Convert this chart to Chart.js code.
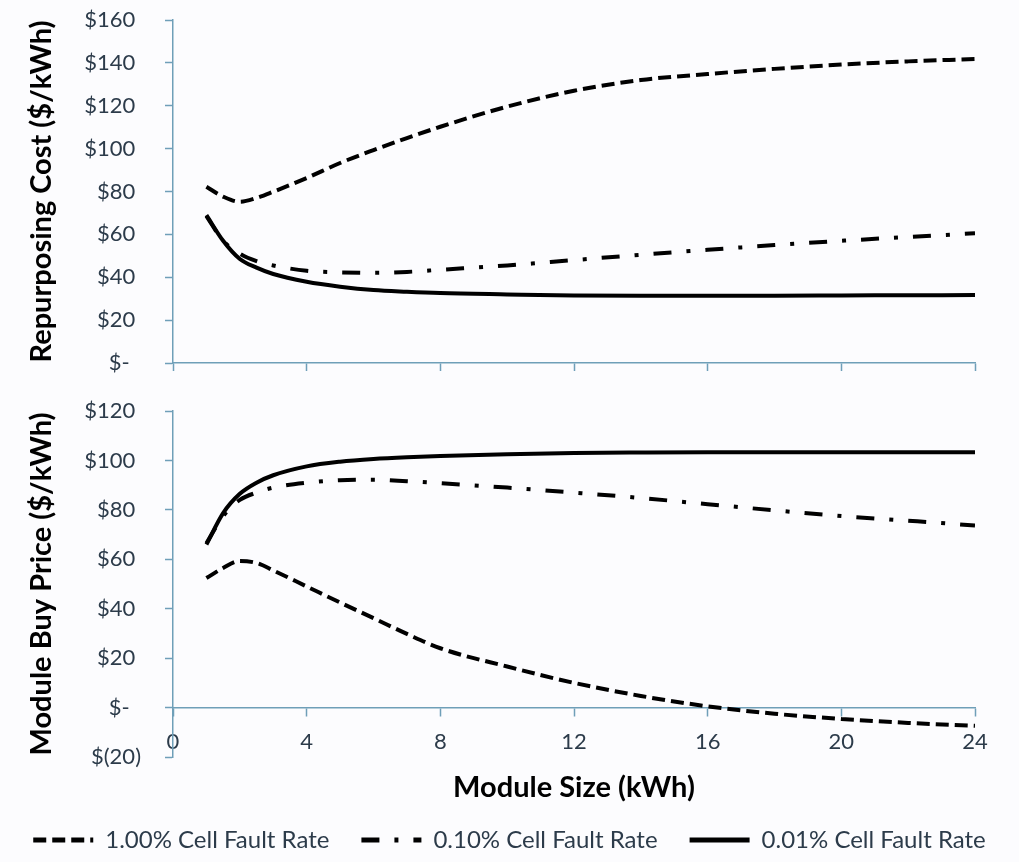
<!DOCTYPE html>
<html>
<head>
<meta charset="utf-8">
<script src="https://cdn.jsdelivr.net/npm/chart.js@4"></script>
<style>
  html, body { margin: 0; padding: 0; background: #fcfcfe; overflow: hidden; }
  #wrap { position: relative; width: 1019px; height: 862px; }
  #top { position: absolute; left: 0; top: 0; width: 1019px; height: 390px; }
  #bottom { position: absolute; left: 0; top: 390px; width: 1019px; height: 472px; }
</style>
</head>
<body>
<div id="wrap">
  <div id="top"><canvas id="costChart"></canvas></div>
  <div id="bottom"><canvas id="priceChart"></canvas></div>
</div>
<script>
// module size (kWh)
const sizes = [1, 1.5, 2, 2.5, 3, 4, 5, 6, 7, 8, 10, 12, 14, 16, 18, 20, 22, 24];

// repurposing cost ($/kWh)
const cost100 = [82.2, 77.6, 75.2, 77, 79.9, 86.3, 93.3, 99.3, 104.9, 110.2, 119.6, 127, 132, 134.8, 137.2, 139.2, 140.7, 141.8];
const cost010 = [68.5, 57, 51, 47.5, 45.5, 43, 42.3, 42.1, 42.5, 43.5, 45.5, 48, 50.5, 52.8, 55, 57, 58.8, 60.5];
const cost001 = [69, 57, 48.5, 44.5, 41.5, 37.9, 35.6, 34, 33.2, 32.6, 32, 31.5, 31.4, 31.4, 31.4, 31.5, 31.6, 31.7];

// module buy price ($/kWh)
const price100 = [52.4, 56.5, 59.3, 58.5, 55.5, 49, 42.5, 36.2, 29.8, 24, 16.6, 10, 4.7, 0.5, -2.5, -4.6, -6.2, -7.4];
const price010 = [66.5, 77.5, 84, 87, 89, 91, 92, 92.2, 91.6, 90.8, 89, 87, 84.8, 82.3, 79.8, 77.5, 75.6, 73.7];
const price001 = [66, 78.7, 86.5, 91, 94, 97.6, 99.5, 100.6, 101.3, 101.8, 102.5, 103, 103.2, 103.3, 103.3, 103.3, 103.3, 103.3];

const seriesNames = ['1.00% Cell Fault Rate', '0.10% Cell Fault Rate', '0.01% Cell Fault Rate'];
const dashes = [[13, 6], [18, 15, 4, 15], []];

const axisColor = '#6f9fb8';
const tickColor = '#2c3b4a';
const fontFamily = 'Lato, Carlito, Calibri, sans-serif';

function pts(ys) {
  return sizes.map((x, i) => ({ x: x, y: ys[i] }));
}

function makeSets(lists) {
  return lists.map((ys, i) => ({
    label: seriesNames[i],
    data: pts(ys),
    borderColor: '#000',
    backgroundColor: '#000',
    borderWidth: 4,
    borderDash: dashes[i],
    pointRadius: 0,
    fill: false,
    cubicInterpolationMode: 'monotone'
  }));
}

function moneyLabel(v) {
  if (v < 0) return '$(' + (-v) + ')';
  if (v === 0) return '$-  ';
  return '$' + v + ' ';
}

function yScale(min, max, title) {
  return {
    min: min, max: max,
    afterFit: (s) => { s.width = 173; s.paddingTop = 0; s.paddingBottom = 0; },
    ticks: { stepSize: 20, color: tickColor, padding: 24, font: { family: fontFamily, size: 22 }, callback: moneyLabel },
    grid: { drawOnChartArea: false, color: axisColor, tickLength: 8, tickWidth: 1.5 },
    border: { color: axisColor, width: 1.5 },
    title: { display: true, text: title, color: '#000', padding: { top: 24, bottom: 0 }, font: { family: fontFamily, size: 29, weight: 'bold' } }
  };
}

function xFit(h) {
  return (s) => {
    if (h) s.height = h;
    s.paddingLeft = 0;
    s.paddingRight = 44;
  };
}

Chart.defaults.font.family = fontFamily;
Chart.defaults.animation = false;

new Chart(document.getElementById('costChart'), {
  type: 'line',
  data: { datasets: makeSets([cost100, cost010, cost001]) },
  options: {
    responsive: true,
    maintainAspectRatio: false,
    layout: { padding: { left: 0, right: 0, top: 20, bottom: 17 } },
    plugins: { legend: { display: false }, tooltip: { enabled: false } },
    scales: {
      x: {
        type: 'linear', min: 0, max: 24,
        afterFit: xFit(10),
        ticks: { stepSize: 4, display: false },
        grid: { drawOnChartArea: false, color: axisColor, tickLength: 8, tickWidth: 1.5 },
        border: { color: axisColor, width: 1.5 }
      },
      y: yScale(0, 160, 'Repurposing Cost ($/kWh)')
    }
  }
});

new Chart(document.getElementById('priceChart'), {
  type: 'line',
  data: { datasets: makeSets([price100, price010, price001]) },
  options: {
    responsive: true,
    maintainAspectRatio: false,
    layout: { padding: { left: 0, right: 0, top: 21, bottom: 0 } },
    plugins: {
      tooltip: { enabled: false },
      legend: {
        position: 'bottom',
        title: { display: true, text: '', font: { size: 10, lineHeight: 1 }, padding: { top: 29, bottom: 0 } },
        labels: {
          usePointStyle: true,
          pointStyle: 'line',
          pointStyleWidth: 60,
          padding: 32,
          color: tickColor,
          font: { family: fontFamily, size: 24 },
          generateLabels: (chart) => {
            const items = Chart.defaults.plugins.legend.labels.generateLabels(chart);
            items.forEach((it) => {
              it.lineDash = chart.data.datasets[it.datasetIndex].borderDash;
              it.lineWidth = 5;
              it.strokeStyle = '#000';
            });
            return items;
          }
        }
      }
    },
    scales: {
      x: {
        type: 'linear', min: 0, max: 24,
        position: { y: 0 },
        afterFit: xFit(0),
        ticks: { stepSize: 4, color: tickColor, padding: 13, font: { family: fontFamily, size: 22 } },
        grid: { drawOnChartArea: false, color: axisColor, tickLength: 8, tickWidth: 1.5 },
        border: { color: axisColor, width: 1.5 },
        title: { display: true, text: 'Module Size (kWh)', color: '#000', padding: { top: 2, bottom: 0 }, font: { family: fontFamily, size: 29, weight: 'bold' } }
      },
      y: yScale(-20, 120, 'Module Buy Price ($/kWh)')
    }
  }
});
</script>
</body>
</html>
